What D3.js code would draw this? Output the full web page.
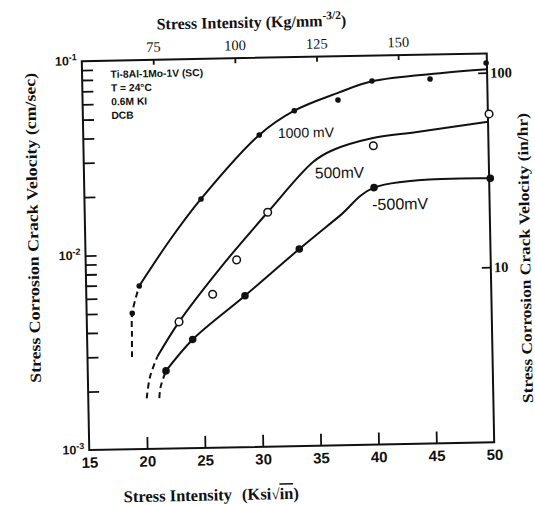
<!DOCTYPE html>
<html><head><meta charset="utf-8">
<script src="https://cdn.jsdelivr.net/npm/d3@7"></script>
<style>
html,body{margin:0;padding:0;background:#fff;}
svg{display:block;}
</style></head>
<body>
<svg id="chart" width="535" height="505"></svg>
<script>
// ---- Data (stress intensity K in ksi·sqrt(in), crack velocity in cm/sec) ----
const xTickValues = [15, 20, 25, 30, 35, 40, 45, 50];
const topTickValues = [75, 100, 125, 150];
const rightTickValues = [10, 100];
const leftMajorTicks = [1e-3, 1e-2, 1e-1];
const leftMajorLabels = ["-3", "-2", "-1"];
const kgPerKsi = 3.543;          // Kg/mm^3/2 per ksi·sqrt(in)
const inhrPerCms = 1257;         // in/hr per cm/sec (as drawn on the right axis)

// measured points
const pts1000K = [18.94, 19.59, 25.07, 30.21, 33.28, 37.07, 40.04, 45.06, 49.93];
const pts1000V = [0.00500, 0.00690, 0.01905, 0.0401, 0.0530, 0.0596, 0.0741, 0.0748, 0.0893];
const pts500K = [22.97, 25.92, 28.05, 30.81, 40.05, 50.1];
const pts500V = [0.00447, 0.00615, 0.00919, 0.01603, 0.0344, 0.0488];
const ptsNegK = [21.76, 24.12, 28.71, 33.48, 40.04, 50.1];
const ptsNegV = [0.00251, 0.00362, 0.00600, 0.01030, 0.02094, 0.02278];

// fitted curves (solid) and extrapolations (dashed)
const curve1000DashK = [18.85, 18.88, 18.94, 19.59];
const curve1000DashV = [0.00298, 0.00387, 0.00500, 0.00690];
const curve1000K = [19.59, 22.32, 25.07, 30.21, 33.28, 37.08, 40.04, 45.93, 50.0];
const curve1000V = [0.00690, 0.0118, 0.01905, 0.0401, 0.0530, 0.0648, 0.0738, 0.0799, 0.0828];

const curve500DashK = [20.05, 20.37, 21.03];
const curve500DashV = [0.00182, 0.00235, 0.00297];
const curve500K = [21.03, 22.97, 26.6, 30.81, 34.84, 36.56, 40.03, 43.85, 50.0];
const curve500V = [0.00297, 0.00447, 0.00835, 0.01603, 0.02886, 0.0330, 0.0377, 0.0401, 0.0445];

const curveNegDashK = [21.14, 21.27, 21.76];
const curveNegDashV = [0.00182, 0.00208, 0.00251];
const curveNegK = [21.76, 24.12, 28.71, 33.48, 37.0, 40.04, 50.0];
const curveNegV = [0.00251, 0.00362, 0.00600, 0.01030, 0.01507, 0.02094, 0.0228];

const curveLabels = ["1000 mV", "500mV", "-500mV"];
const curveLabelK = [31.83, 34.96, 39.85];
const curveLabelV = [0.0385, 0.02366, 0.01607];
const noteLines = ["Ti-8Al-1Mo-1V (SC)", "T = 24\u00B0C", "0.6M KI", "DCB"];

(function () {
// ---- Layout ----
const pL = 85.5, pR = 490.5, pT = 57.25, pB = 446.25;
const ink = "#111";

const svg = d3.select("#chart");
svg.append("rect").attr("width", 535).attr("height", 505).attr("fill", "#fff");
const g = svg.append("g").attr("transform", "rotate(-1.1 288 252)");

const x = d3.scaleLinear().domain([15, 50]).range([pL, pR]);
const y = d3.scaleLog().domain([1e-3, 1e-1]).range([pB, pT]);
const xTop = d3.scaleLinear().domain([15 * kgPerKsi, 50 * kgPerKsi]).range([pL, pR]);
const yRight = d3.scaleLog().domain([1e-3 * inhrPerCms, 1e-1 * inhrPerCms]).range([pB, pT]);

// frame
g.append("rect").attr("x", pL).attr("y", pT).attr("width", pR - pL).attr("height", pB - pT)
  .attr("fill", "none").attr("stroke", ink).attr("stroke-width", 2);

function styleAxis(sel) {
  sel.select(".domain").remove();
  sel.selectAll(".tick line").attr("stroke", ink).attr("stroke-width", 1.8);
  sel.selectAll(".tick text").attr("fill", ink);
}

// bottom axis
const axB = g.append("g").attr("transform", `translate(0,${pB})`)
  .call(d3.axisBottom(x).tickValues(xTickValues).tickSizeInner(-12).tickSizeOuter(0).tickPadding(7).tickFormat(d3.format("d")));
styleAxis(axB);
axB.selectAll(".tick text").attr("font-family", "Liberation Sans, Arial, sans-serif").attr("font-weight", "bold").attr("font-size", 15);
axB.selectAll(".tick").filter(d => d === 15 || d === 50).select("line").remove();

// top axis
const axT = g.append("g").attr("transform", `translate(0,${pT})`)
  .call(d3.axisTop(xTop).tickValues(topTickValues).tickSizeInner(-5).tickSizeOuter(0).tickPadding(8).tickFormat(d3.format("d")));
styleAxis(axT);
axT.selectAll(".tick text").attr("font-family", "Liberation Serif, Times New Roman, serif").attr("font-size", 14.5);

// left axis (log minor ticks)
const leftTicks = [];
for (let dec = 1e-3; dec < 0.1; dec *= 10) for (let m = 2; m <= 10; m++) leftTicks.push(+(m * dec).toPrecision(3));
const axL = g.append("g").attr("transform", `translate(${pL},0)`)
  .call(d3.axisLeft(y).tickValues(leftTicks.filter(v => v < 0.1)).tickSizeInner(-11).tickSizeOuter(0).tickFormat(() => ""));
styleAxis(axL);
leftMajorTicks.forEach((v, i) => {
  const t = g.append("text").attr("x", pL - 5).attr("y", y(v) + 4).attr("text-anchor", "end")
    .attr("font-family", "Liberation Sans, Arial, sans-serif").attr("font-weight", "bold").attr("fill", ink);
  t.append("tspan").attr("font-size", 12.5).text("10");
  t.append("tspan").attr("font-size", 9).attr("dy", -5).text(leftMajorLabels[i]);
});

// right axis
const axR = g.append("g").attr("transform", `translate(${pR},0)`)
  .call(d3.axisRight(yRight).tickValues(rightTickValues).tickSizeInner(-9).tickSizeOuter(0).tickPadding(3).tickFormat(d3.format("d")));
styleAxis(axR);
axR.selectAll(".tick text").attr("font-family", "Liberation Serif, Times New Roman, serif").attr("font-weight", "bold").attr("font-size", 14.5);

// titles
const serifB = "Liberation Serif, Times New Roman, serif";
const tt = g.append("text").attr("x", 161).attr("y", 27).attr("font-family", serifB).attr("font-weight", "bold")
  .attr("font-size", 16).attr("fill", ink);
tt.append("tspan").text("Stress Intensity (Kg/mm");
tt.append("tspan").attr("font-size", 11.5).attr("dy", -7).text("-3/2");
tt.append("tspan").attr("dy", 7).text(")");

const bt = g.append("text").attr("x", 119).attr("y", 499).attr("font-family", serifB).attr("font-weight", "bold")
  .attr("font-size", 16.5).attr("fill", ink);
bt.append("tspan").text("Stress Intensity");
bt.append("tspan").attr("dx", 10).text("(Ksi");
bt.append("tspan").attr("font-size", 15).text("\u221A");
bt.append("tspan").style("text-decoration", "overline").text("in");
bt.append("tspan").text(")");

g.append("text").attr("transform", "translate(38.5,223) rotate(-90)").attr("text-anchor", "middle")
  .attr("font-family", serifB).attr("font-weight", "bold").attr("font-size", 15.5).attr("fill", ink)
  .attr("textLength", 310).attr("lengthAdjust", "spacingAndGlyphs")
  .text("Stress Corrosion Crack Velocity (cm/sec)");
g.append("text").attr("transform", "translate(530,262.6) rotate(-90)").attr("text-anchor", "middle")
  .attr("font-family", serifB).attr("font-weight", "bold").attr("font-size", 15).attr("fill", ink)
  .attr("textLength", 290).attr("lengthAdjust", "spacingAndGlyphs")
  .text("Stress Corrosion Crack Velocity (in/hr)");

// note block
noteLines.forEach((s, i) => {
  g.append("text").attr("x", 114).attr("y", 74.5 + i * 13.7)
    .attr("font-family", "Liberation Sans, Arial, sans-serif").attr("font-weight", "bold")
    .attr("font-size", 10.3).attr("fill", ink).text(s);
});

// curves
const line = d3.line().x(d => x(d[0])).y(d => y(d[1])).curve(d3.curveCatmullRom.alpha(0.5));
const zip = (a, b) => a.map((v, i) => [v, b[i]]);
const curves = [
  [curve1000K, curve1000V, false], [curve1000DashK, curve1000DashV, true],
  [curve500K, curve500V, false], [curve500DashK, curve500DashV, true],
  [curveNegK, curveNegV, false], [curveNegDashK, curveNegDashV, true]
];
curves.forEach(([k, v, dashed]) => {
  g.append("path").attr("d", line(zip(k, v))).attr("fill", "none").attr("stroke", ink)
    .attr("stroke-width", 2).attr("stroke-dasharray", dashed ? "6,4" : null);
});

// points
g.selectAll(".p1000").data(zip(pts1000K, pts1000V)).join("circle")
  .attr("cx", d => x(d[0])).attr("cy", d => y(d[1])).attr("r", 2.8).attr("fill", ink);
g.selectAll(".p500").data(zip(pts500K, pts500V)).join("circle")
  .attr("cx", d => x(d[0])).attr("cy", d => y(d[1])).attr("r", 3.8).attr("fill", "#fff")
  .attr("stroke", ink).attr("stroke-width", 1.5);
g.selectAll(".pneg").data(zip(ptsNegK, ptsNegV)).join("circle")
  .attr("cx", d => x(d[0])).attr("cy", d => y(d[1])).attr("r", 3.8).attr("fill", ink);

// curve labels
const labelSizes = [14, 15.5, 16];
curveLabels.forEach((s, i) => {
  g.append("text").attr("x", x(curveLabelK[i])).attr("y", y(curveLabelV[i]))
    .attr("font-family", "Liberation Sans, Arial, sans-serif").attr("font-size", labelSizes[i])
    .attr("fill", ink).text(s);
});
})();
</script>
</body></html>
